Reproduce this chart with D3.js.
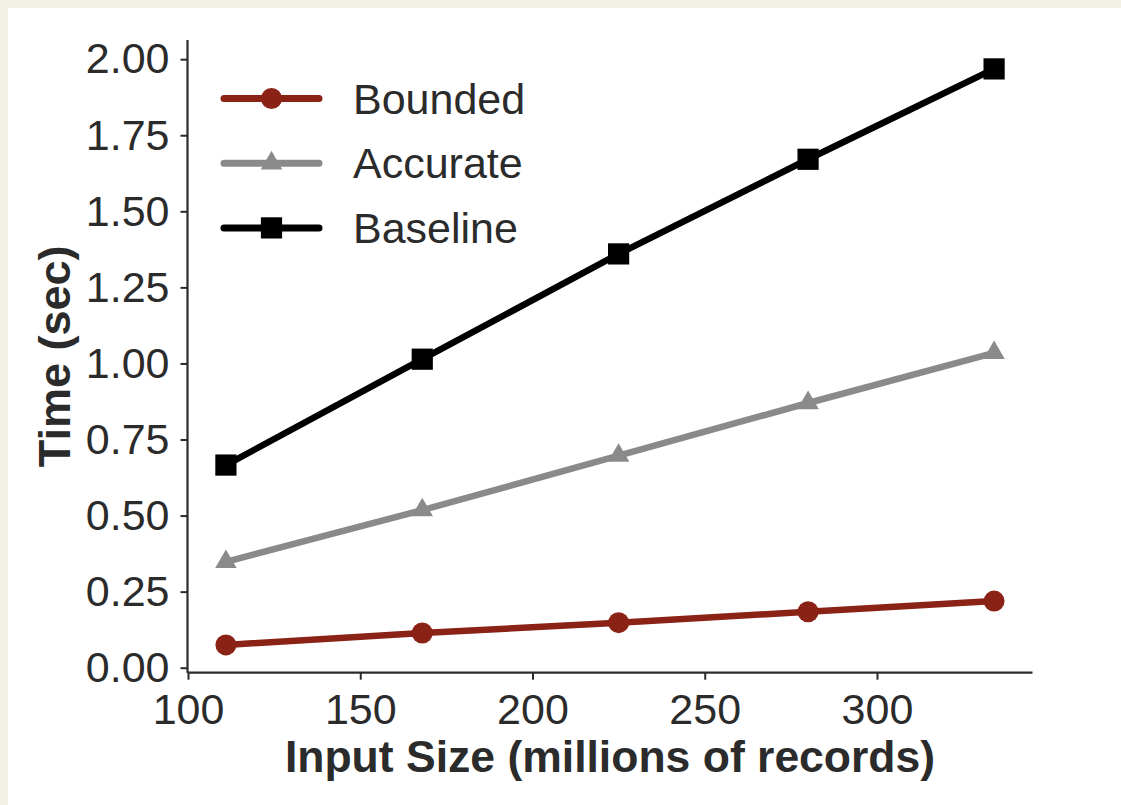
<!DOCTYPE html>
<html>
<head>
<meta charset="utf-8">
<script src="https://cdn.jsdelivr.net/npm/d3@7"></script>
<style>
  html, body { margin: 0; padding: 0; background: #f2efe7; }
  svg { display: block; }
</style>
</head>
<body>
<div id="chart"></div>
<script>
// input size (millions of records)
const inputSizes = [111, 168, 225, 280, 334];
// time in seconds for each series
const boundedTimes = [0.075, 0.114, 0.148, 0.184, 0.219];
const accurateTimes = [0.348, 0.518, 0.697, 0.870, 1.035];
const baselineTimes = [0.666, 1.014, 1.360, 1.671, 1.968];
const seriesNames = ["Bounded", "Accurate", "Baseline"];
const yTicks = [0, 0.25, 0.5, 0.75, 1.0, 1.25, 1.5, 1.75, 2.0];
const xTicks = [100, 150, 200, 250, 300];

(function () {
  const width = 1121,
    height = 805;
  const fontFamily = "'Liberation Sans', Arial, Helvetica, sans-serif";
  const textColor = "#2b2b2b";

  const series = [
    { name: seriesNames[0], values: boundedTimes, color: "#8a2216", marker: "circle" },
    { name: seriesNames[1], values: accurateTimes, color: "#8a8a8a", marker: "triangle" },
    { name: seriesNames[2], values: baselineTimes, color: "#000000", marker: "square" },
  ];

  const x = d3.scaleLinear().domain([99.85, 345.15]).range([187.5, 1032.5]);
  const y = d3.scaleLinear().domain([-0.0164, 2.063]).range([672.7, 40]);

  const svg = d3
    .select("#chart")
    .append("svg")
    .attr("width", width)
    .attr("height", height)
    .attr("font-family", fontFamily);

  // paper area
  svg
    .append("rect")
    .attr("x", 8)
    .attr("y", 8)
    .attr("width", width - 8)
    .attr("height", height - 8)
    .attr("fill", "#ffffff");

  // axes
  const xAxis = svg
    .append("g")
    .attr("transform", `translate(0,${y.range()[0]})`)
    .call(
      d3.axisBottom(x).tickValues(xTicks).tickSize(7).tickPadding(14).tickFormat(d3.format("d"))
    );

  const yAxis = svg
    .append("g")
    .attr("transform", `translate(${x.range()[0]},0)`)
    .call(
      d3.axisLeft(y).tickValues(yTicks).tickSize(7).tickPadding(11).tickFormat(d3.format(".2f"))
    );

  [xAxis, yAxis].forEach((g) => {
    g.select(".domain").attr("stroke", textColor).attr("stroke-width", 2.2);
    g.selectAll(".tick line").attr("stroke", textColor).attr("stroke-width", 2);
    g.selectAll(".tick text")
      .attr("fill", textColor)
      .attr("font-size", 43)
      .attr("font-family", fontFamily);
  });
  // plain spines without end caps
  xAxis.select(".domain").attr("d", `M${x.range()[0]},0H${x.range()[1]}`);
  yAxis.select(".domain").attr("d", `M0,${y.range()[0]}V${y.range()[1]}`);

  // axis titles
  svg
    .append("text")
    .attr("x", (x.range()[0] + x.range()[1]) / 2)
    .attr("y", 772)
    .attr("text-anchor", "middle")
    .attr("font-size", 44.5)
    .attr("font-weight", "bold")
    .attr("fill", textColor)
    .text("Input Size (millions of records)");

  svg
    .append("text")
    .attr("transform", `translate(70,${(y.range()[0] + y.range()[1]) / 2}) rotate(-90)`)
    .attr("text-anchor", "middle")
    .attr("font-size", 45)
    .attr("font-weight", "bold")
    .attr("fill", textColor)
    .text("Time (sec)");

  const line = d3
    .line()
    .x((d) => x(d[0]))
    .y((d) => y(d[1]));

  const symbolFor = {
    triangle: d3.symbol().type(d3.symbolTriangle).size(200)(),
    square: d3.symbol().type(d3.symbolSquare).size(450)(),
  };

  function drawMarker(g, kind, color) {
    if (kind === "circle") {
      g.append("circle").attr("r", 10.5).attr("fill", color);
    } else {
      g.append("path").attr("d", symbolFor[kind]).attr("fill", color);
    }
  }

  const plot = svg.append("g");

  series.forEach((s) => {
    const pts = inputSizes.map((v, i) => [v, s.values[i]]);
    plot
      .append("path")
      .datum(pts)
      .attr("fill", "none")
      .attr("stroke", s.color)
      .attr("stroke-width", 6.5)
      .attr("stroke-linejoin", "round")
      .attr("stroke-linecap", "round")
      .attr("d", line);

    plot
      .append("g")
      .selectAll("g")
      .data(pts)
      .join("g")
      .attr("transform", (d) => `translate(${x(d[0])},${y(d[1])})`)
      .each(function () {
        drawMarker(d3.select(this), s.marker, s.color);
      });
  });

  // legend
  const legend = svg.append("g");
  const legendRows = legend
    .selectAll("g")
    .data(series)
    .join("g")
    .attr("transform", (d, i) => `translate(0,${98.5 + i * 64.7})`);

  legendRows
    .append("line")
    .attr("x1", 224)
    .attr("x2", 319)
    .attr("stroke", (d) => d.color)
    .attr("stroke-width", 7)
    .attr("stroke-linecap", "round");

  legendRows.each(function (d) {
    const m = d3.select(this).append("g").attr("transform", "translate(271.5,0)");
    drawMarker(m, d.marker, d.color);
  });

  legendRows
    .append("text")
    .attr("x", 353)
    .attr("dy", "0.35em")
    .attr("font-size", 43)
    .attr("fill", textColor)
    .text((d) => d.name);
})();
</script>
</body>
</html>
